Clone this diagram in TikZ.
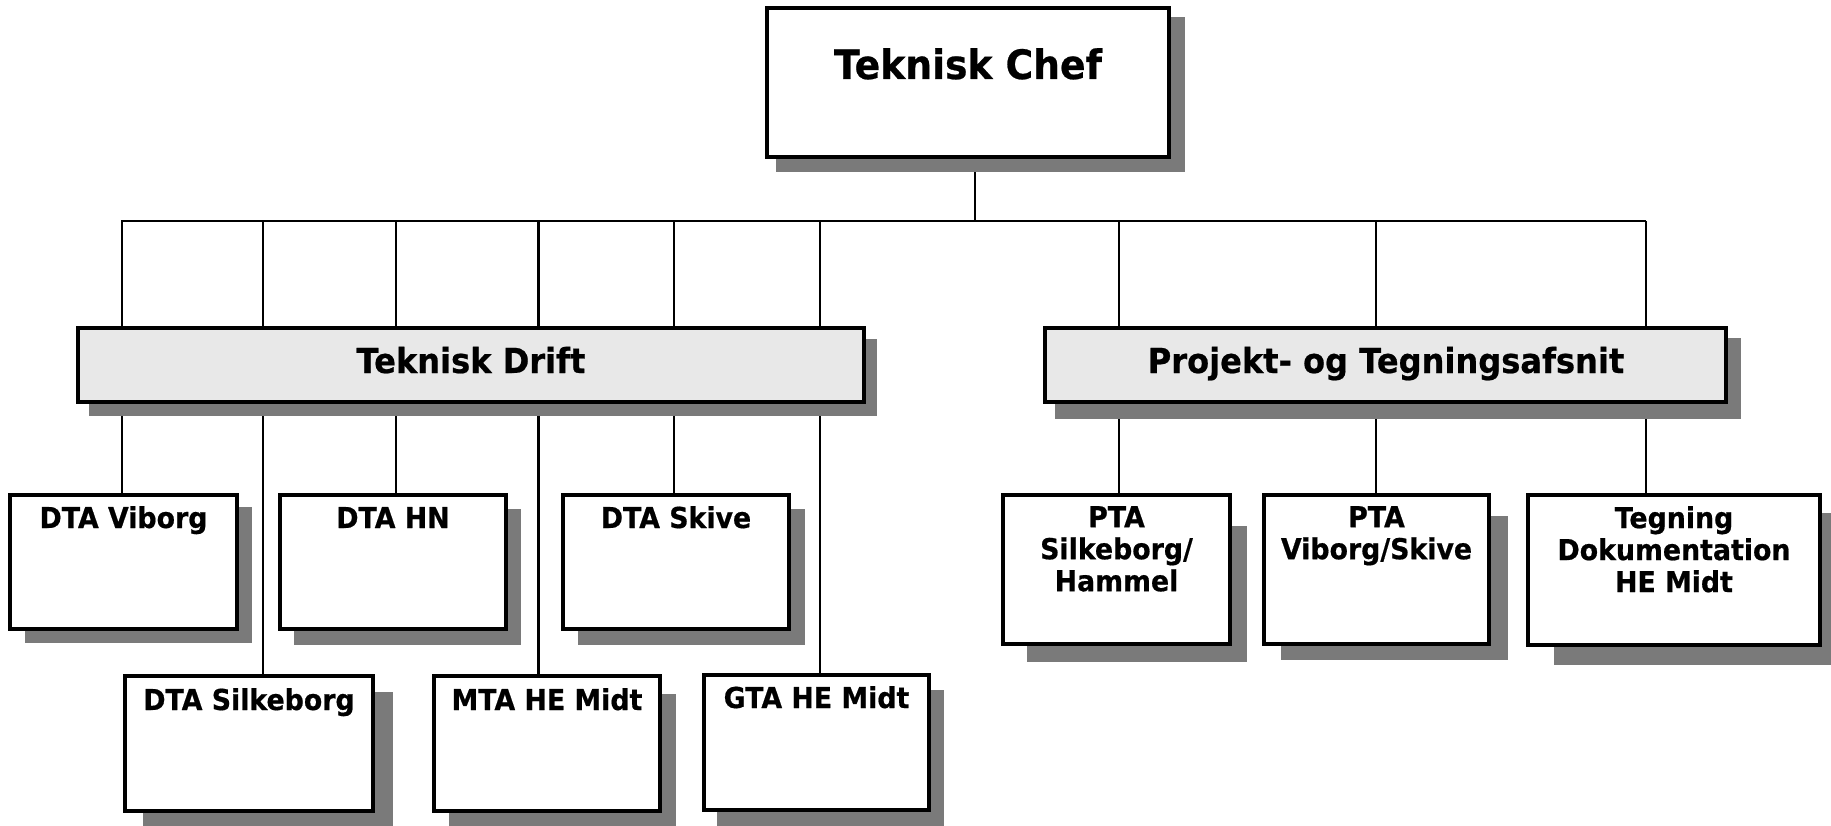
\documentclass[tikz,border=0pt]{standalone}
\usepackage{fontspec}
\setmainfont[FakeStretch=0.93, BoldFeatures={FakeBold=0.6}]{DejaVu Sans}
\usetikzlibrary{calc}
\pgfdeclarelayer{conn}
\pgfdeclarelayer{shade}
\pgfsetlayers{conn,shade,main}
\definecolor{shadowc}{RGB}{122,122,122}
\definecolor{barfill}{RGB}{232,232,232}
\tikzset{
  box/.style={draw=black, line width=3.5pt, fill=white, rectangle, inner sep=0pt, outer sep=0pt, anchor=north west},
  bar/.style={box, fill=barfill},
  link/.style={line width=2.2pt, draw=black},
  shd/.style={fill=shadowc},
  lbl/.style={font=\bfseries\fontsize{28.8}{32}\selectfont, inner sep=0pt, anchor=base, align=center},
  mlbl/.style={lbl, anchor=north},
}
\newcommand\shadowof[5]{%
  \begin{pgfonlayer}{shade}
    \fill[shd] ($(#1.north west)+(#2,#3)$) rectangle ($(#1.south east)+(#4,#5)$);
  \end{pgfonlayer}}
\begin{document}
\begin{tikzpicture}[x=1pt,y=-1pt]
\useasboundingbox (0,0) rectangle (1831,826);
% top
\node[box, minimum width=402, minimum height=149] (chef) at (767,8) {};
\shadowof{chef}{9}{9}{16}{15}
\node[lbl, font=\bfseries\fontsize{40.5}{48}\selectfont] (tchef) at (968,79) {Teknisk Chef};
% bars
\node[bar, minimum width=786, minimum height=74] (drift) at (78,328) {};
\shadowof{drift}{11}{11}{13}{14}
\node[lbl, font=\bfseries\fontsize{34.5}{40}\selectfont] (tdrift) at (471,373) {Teknisk Drift};
\node[bar, minimum width=681, minimum height=74] (proj) at (1045,328) {};
\shadowof{proj}{10}{10}{15}{17}
\node[lbl, font=\bfseries\fontsize{34.5}{40}\selectfont] (tproj) at (1386,373) {Projekt- og Tegningsafsnit};
% Drift children, top row
\node[box, minimum width=227, minimum height=134] (viborg) at (10,495) {};
\shadowof{viborg}{15}{12}{15}{14}
\node[lbl] (tviborg) at (viborg.north |- 0,528) {DTA Viborg};
\node[box, minimum width=226, minimum height=134] (hn) at (280,495) {};
\shadowof{hn}{14}{14}{15}{16}
\node[lbl] (thn) at (hn.north |- 0,528) {DTA HN};
\node[box, minimum width=226, minimum height=134] (skive) at (563,495) {};
\shadowof{skive}{15}{14}{16}{16}
\node[lbl] (tskive) at (skive.north |- 0,528) {DTA Skive};
% Drift children, bottom row
\node[box, minimum width=248, minimum height=135] (silk) at (125,676) {};
\shadowof{silk}{18}{16}{20}{16}
\node[lbl] (tsilk) at (silk.north |- 0,710) {DTA Silkeborg};
\node[box, minimum width=226, minimum height=135] (mta) at (434,676) {};
\shadowof{mta}{15}{18}{16}{16}
\node[lbl] (tmta) at (mta.north |- 0,710) {MTA HE Midt};
\node[box, minimum width=225, minimum height=135] (gta) at (704,675) {};
\shadowof{gta}{13}{15}{15}{16}
\node[lbl] (tgta) at (gta.north |- 0,708) {GTA HE Midt};
% Projekt children
\node[box, minimum width=227, minimum height=149] (ptas) at (1003,495) {};
\shadowof{ptas}{24}{31}{17}{18}
\node[mlbl] (tptas) at (ptas.north |- 0,506) {PTA\\Silkeborg/\\Hammel};
\node[box, minimum width=225, minimum height=149] (ptav) at (1264,495) {};
\shadowof{ptav}{17}{21}{19}{16}
\node[mlbl] (tptav) at (ptav.north |- 0,506) {PTA\\Viborg/Skive};
\node[box, minimum width=292, minimum height=150] (tegn) at (1528,495) {};
\shadowof{tegn}{26}{18}{15}{20}
\node[mlbl] (ttegn) at (tegn.north |- 0,506) {Tegning\\Dokumentation\\HE Midt};
% connectors
\begin{pgfonlayer}{conn}
\coordinate (busL) at (121,221);
\coordinate (busR) at (1646,221);
\coordinate (stem) at (975,221);
\draw[link] (busL) -- (busR);
\draw[link] (chef.south -| stem) -- (stem);
\coordinate (d1) at (122,221);
\coordinate (d2) at (263,221);
\coordinate (d3) at (396,221);
\coordinate (d4) at (538.5,221);
\coordinate (d5) at (674,221);
\coordinate (d6) at (820,221);
\coordinate (p1) at (1119,221);
\coordinate (p2) at (1376,221);
\coordinate (p3) at (1646,221);
\draw[link] (d1) -- (d1 |- viborg.north);
\draw[link] (d2) -- (d2 |- silk.north);
\draw[link] (d3) -- (d3 |- hn.north);
\draw[link] (d4) -- (d4 |- mta.north);
\draw[link] (d5) -- (d5 |- skive.north);
\draw[link] (d6) -- (d6 |- gta.north);
\draw[link] (p1) -- (p1 |- ptas.north);
\draw[link] (p2) -- (p2 |- ptav.north);
\draw[link] (p3) -- (p3 |- tegn.north);
\end{pgfonlayer}
\end{tikzpicture}
\end{document}
